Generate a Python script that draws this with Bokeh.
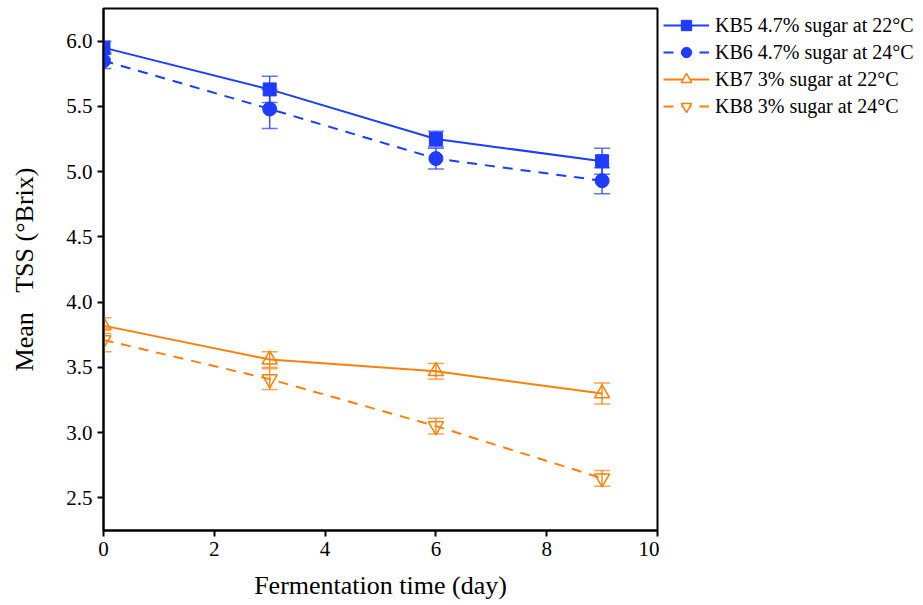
from bokeh.plotting import figure
from bokeh.layouts import row
from bokeh.models import ColumnDataSource, Whisker, TeeHead, FixedTicker, Legend, LegendItem, Range1d, NumeralTickFormatter
from bokeh.embed import file_html
from bokeh.resources import INLINE

days = [0, 3, 6, 9]
kb5 = [5.95, 5.63, 5.25, 5.08]
kb5_err = [0.05, 0.10, 0.06, 0.10]
kb6 = [5.85, 5.48, 5.10, 4.93]
kb6_err = [0.06, 0.15, 0.08, 0.10]
kb7 = [3.82, 3.56, 3.47, 3.30]
kb7_err = [0.06, 0.06, 0.06, 0.08]
kb8 = [3.71, 3.41, 3.05, 2.65]
kb8_err = [0.09, 0.08, 0.06, 0.06]
labels = ["KB5 4.7% sugar at 22°C", "KB6 4.7% sugar at 24°C",
          "KB7 3% sugar at 22°C", "KB8 3% sugar at 24°C"]
x_ticks = [0, 2, 4, 6, 8, 10]
y_ticks = [2.5, 3.0, 3.5, 4.0, 4.5, 5.0, 5.5, 6.0]

BLUE = "#1E3CFF"
ORANGE = "#FF7F0A"
FONT = "Liberation Serif"

p = figure(width=659, height=605, output_backend="svg", toolbar_location=None,
           x_range=Range1d(0, 10), y_range=Range1d(2.25, 6.25),
           min_border_left=103, min_border_right=2, min_border_top=8, min_border_bottom=75)
p.xgrid.visible = False
p.ygrid.visible = False
p.outline_line_color = "black"
p.outline_line_width = 2
p.background_fill_color = "white"
p.border_fill_color = "white"

# legend-only figure to the right
q = figure(width=264, height=605, output_backend="svg", toolbar_location=None,
           x_range=Range1d(0, 1), y_range=Range1d(0, 1),
           min_border_left=0, min_border_right=0, min_border_top=3, min_border_bottom=0)
q.axis.visible = False
q.grid.visible = False
q.outline_line_color = None
q.border_fill_color = "white"
q.background_fill_color = "white"

series = [
    (kb5, kb5_err, BLUE, "solid", "square", True, 13),
    (kb6, kb6_err, BLUE, "10 8", "circle", True, 14),
    (kb7, kb7_err, ORANGE, "solid", "triangle", False, 15),
    (kb8, kb8_err, ORANGE, "10 8", "inverted_triangle", False, 15),
]

items = []
for (vals, errs, col, dash, marker, filled, size), lab in zip(series, labels):
    src = ColumnDataSource(dict(x=days, y=vals,
                                upper=[v + e for v, e in zip(vals, errs)],
                                lower=[v - e for v, e in zip(vals, errs)]))
    w = Whisker(source=src, base="x", upper="upper", lower="lower",
                line_color=col, line_width=1.5, line_alpha=0.85,
                upper_head=TeeHead(size=16, line_color=col, line_width=1.5, line_alpha=0.7),
                lower_head=TeeHead(size=16, line_color=col, line_width=1.5, line_alpha=0.7))
    p.add_layout(w)
    p.line("x", "y", source=src, line_color=col, line_width=2, line_dash=dash)
    if filled:
        p.scatter("x", "y", source=src, marker=marker, size=size,
                  fill_color=col, line_color=col)
    else:
        p.scatter("x", "y", source=src, marker=marker, size=size,
                  fill_alpha=0, line_color=col, line_width=1.5)
    # legend proxies in the side figure (single point placed outside its visible range)
    lsrc = ColumnDataSource(dict(x=[-5], y=[-5]))
    ln = q.line("x", "y", source=lsrc, line_color=col, line_width=2, line_dash=dash)
    if filled:
        sc = q.scatter("x", "y", source=lsrc, marker=marker, size=size,
                       fill_color=col, line_color=col)
    else:
        sc = q.scatter("x", "y", source=lsrc, marker=marker, size=size,
                       fill_color="white", line_color=col, line_width=1.5)
    items.append(LegendItem(label=lab, renderers=[ln, sc]))

legend = Legend(items=items, location="top_left", border_line_alpha=0,
                background_fill_alpha=0, label_text_font=FONT, label_text_font_size="20px",
                label_text_color="black",
                glyph_width=46, glyph_height=26, spacing=1, label_standoff=6,
                padding=0, margin=4)
q.add_layout(legend)

for ax in (p.xaxis[0], p.yaxis[0]):
    ax.axis_line_width = 2
    ax.axis_line_color = "black"
    ax.major_tick_line_width = 2
    ax.major_tick_out = 6
    ax.major_tick_in = 0
    ax.minor_tick_out = 0
    ax.minor_tick_in = 0
    ax.major_label_text_font = FONT
    ax.major_label_text_font_size = "21px"
    ax.major_label_text_color = "black"
    ax.axis_label_text_font = FONT
    ax.axis_label_text_font_size = "26px"
    ax.axis_label_text_font_style = "normal"
    ax.axis_label_text_color = "black"

p.xaxis.ticker = FixedTicker(ticks=x_ticks)
p.yaxis.ticker = FixedTicker(ticks=y_ticks)
p.yaxis.formatter = NumeralTickFormatter(format="0.0")
p.xaxis.axis_label = "Fermentation time (day)"
p.yaxis.axis_label = "Mean\u00a0\u00a0\u00a0TSS (°Brix)"
p.xaxis.axis_label_standoff = 12
p.yaxis.axis_label_standoff = 24

open("out.html", "w").write(file_html(row(p, q), INLINE))
